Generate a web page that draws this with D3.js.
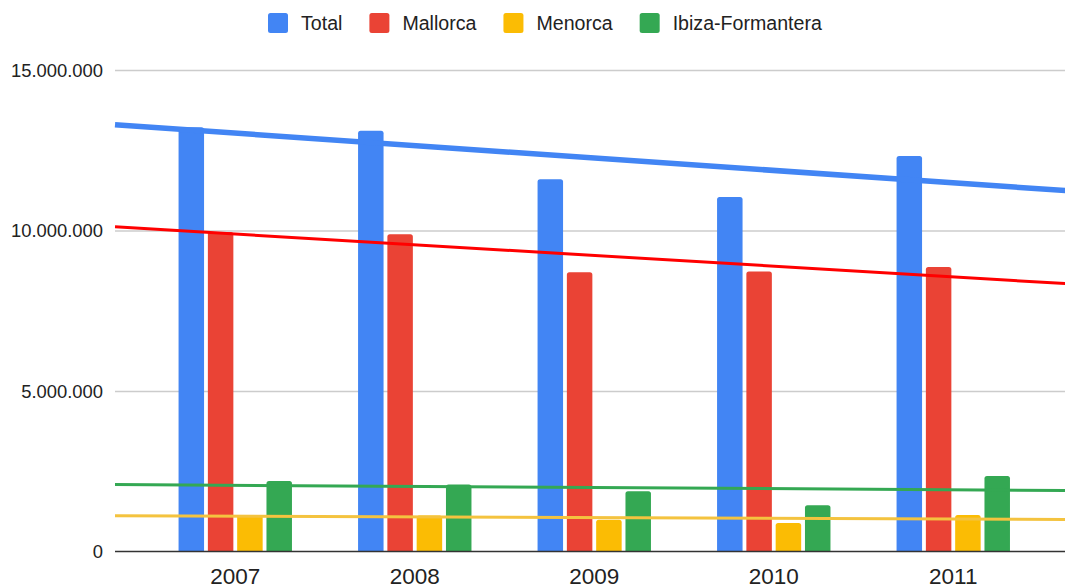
<!DOCTYPE html>
<html>
<head>
<meta charset="utf-8">
<script src="https://cdn.jsdelivr.net/npm/d3@7"></script>
<style>
  body { margin: 0; background: #fff; }
  svg { display: block; font-family: Arial, "Liberation Sans", sans-serif; }
  .grid line { stroke: #cccccc; stroke-width: 1.5; }
  .grid path { display: none; }
  .ylab text { fill: #222; font-size: 18.4px; }
  .xlab text { fill: #222; font-size: 22.5px; }
  .legend text { fill: #222; font-size: 19.6px; }
</style>
</head>
<body>
<div id="chart"></div>
<script>
var years = [2007, 2008, 2009, 2010, 2011];
var series = ["Total", "Mallorca", "Menorca", "Ibiza-Formantera"];
var total = [13220000, 13110000, 11600000, 11040000, 12320000];
var mallorca = [9950000, 9880000, 8700000, 8720000, 8860000];
var menorca = [1140000, 1120000, 990000, 890000, 1140000];
var ibiza = [2200000, 2090000, 1880000, 1440000, 2350000];
var yTicks = [0, 5000000, 10000000, 15000000];

var barColors = ["#4285f4", "#ea4335", "#fbbc04", "#34a853"];
var trendColors = ["#4285f4", "#ff0000", "#f4c33f", "#34a853"];
var trendWidths = [5.5, 3, 3, 3];
var values = [total, mallorca, menorca, ibiza];

var width = 1065, height = 584;
var plotLeft = 115;

var svg = d3.select("#chart").append("svg")
    .attr("width", width)
    .attr("height", height);

// continuous year axis so trendlines can run past the outer years
var x = d3.scaleLinear().domain([2006.33, 2011.67]).range([plotLeft, plotLeft + 5.34 * 179.5]);
var y = d3.scaleLinear().domain([0, 15000000]).range([551.5, 70]);
var inner = d3.scaleBand().domain(series).range([-56.7, 56.7]).paddingInner(0.13).paddingOuter(0);

var fmt = function(v) { return d3.format(",")(v).replace(/,/g, "."); };

svg.append("g")
    .attr("class", "grid")
    .attr("transform", "translate(" + plotLeft + ",0)")
    .call(d3.axisLeft(y).tickValues(yTicks.slice(1)).tickSize(-(width - plotLeft)).tickFormat(""));

var ylab = svg.append("g").attr("class", "ylab");
ylab.selectAll("text").data(yTicks).enter().append("text")
    .attr("x", 103)
    .attr("y", function(d) { return y(d); })
    .attr("dy", "0.36em")
    .attr("text-anchor", "end")
    .text(fmt);

// bars with slightly rounded tops
function barPath(x0, w, yTop, yBase) {
    var r = Math.min(2.5, (yBase - yTop) / 2);
    return "M" + x0 + "," + yBase +
        "V" + (yTop + r) +
        "Q" + x0 + "," + yTop + " " + (x0 + r) + "," + yTop +
        "H" + (x0 + w - r) +
        "Q" + (x0 + w) + "," + yTop + " " + (x0 + w) + "," + (yTop + r) +
        "V" + yBase + "Z";
}

series.forEach(function(s, i) {
    svg.append("g").selectAll("path").data(years).enter().append("path")
        .attr("fill", barColors[i])
        .attr("d", function(yr, j) {
            return barPath(x(yr) + inner(s), inner.bandwidth(), y(values[i][j]), y(0));
        });
});

svg.append("line")
    .attr("x1", plotLeft).attr("x2", width)
    .attr("y1", y(0)).attr("y2", y(0))
    .attr("stroke", "#333").attr("stroke-width", 1.5);

// linear trendlines (least squares over the data)
series.forEach(function(s, i) {
    var mx = d3.mean(years), my = d3.mean(values[i]);
    var num = d3.sum(years, function(yr, j) { return (yr - mx) * (values[i][j] - my); });
    var den = d3.sum(years, function(yr) { return (yr - mx) * (yr - mx); });
    var slope = num / den;
    var ends = x.domain().map(function(yr) { return [x(yr), y(my + slope * (yr - mx))]; });
    svg.append("path")
        .attr("fill", "none")
        .attr("stroke", trendColors[i])
        .attr("stroke-width", trendWidths[i])
        .attr("d", d3.line()(ends));
});

var xlab = svg.append("g").attr("class", "xlab");
xlab.selectAll("text").data(years).enter().append("text")
    .attr("x", function(d) { return x(d); })
    .attr("y", 584)
    .attr("text-anchor", "middle")
    .text(function(d) { return d; });

// legend
var legend = svg.append("g").attr("class", "legend");
var lx = 268;
series.forEach(function(s, i) {
    legend.append("rect")
        .attr("x", lx).attr("y", 13)
        .attr("width", 20).attr("height", 20)
        .attr("rx", 2.5)
        .attr("fill", barColors[i]);
    var t = legend.append("text")
        .attr("x", lx + 33).attr("y", 23)
        .attr("dy", "0.36em")
        .text(s);
    lx += 33 + t.node().getComputedTextLength() + 27;
});
</script>
</body>
</html>
